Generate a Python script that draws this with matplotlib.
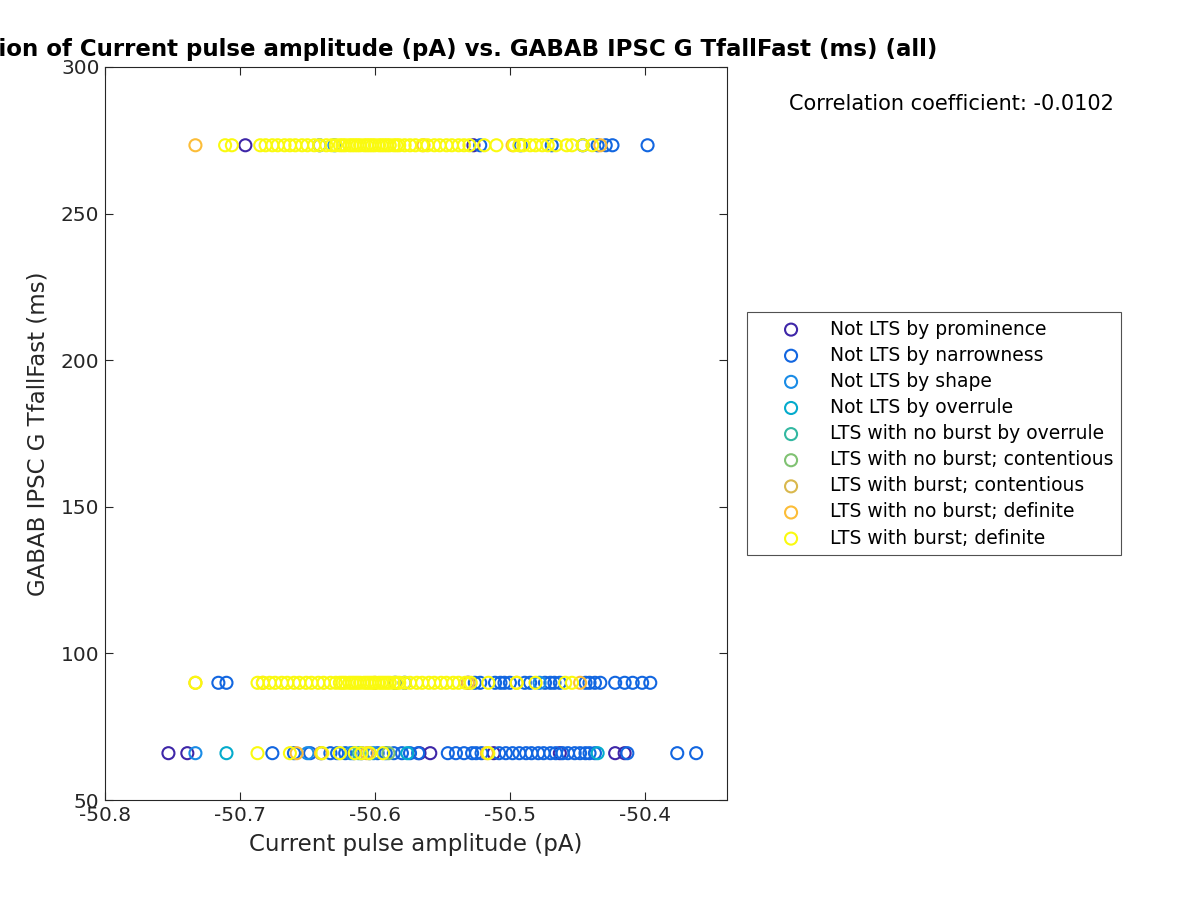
import matplotlib
matplotlib.use("Agg")
import matplotlib.pyplot as plt
import numpy as np

plt.rcParams['font.family'] = ['DejaVu Sans']
plt.rcParams['axes.unicode_minus'] = False

categories = ["Not LTS by prominence", "Not LTS by narrowness", "Not LTS by shape",
              "Not LTS by overrule", "LTS with no burst by overrule",
              "LTS with no burst; contentious", "LTS with burst; contentious",
              "LTS with no burst; definite", "LTS with burst; definite"]
colors = [(0.2422, 0.1504, 0.6603), (0.0704, 0.40, 0.88), (0.10, 0.55, 0.90),
          (0.02, 0.67, 0.80), (0.20, 0.72, 0.63), (0.50, 0.76, 0.45),
          (0.85, 0.72, 0.30), (0.99, 0.74, 0.22), (0.98, 0.98, 0.06)]

Y_TOP, Y_MID, Y_BOT = 273.3, 90.0, 66.0

dense = [-50.626, -50.624, -50.622, -50.619, -50.617, -50.615, -50.613, -50.611,
         -50.608, -50.606, -50.604, -50.602, -50.600, -50.597, -50.595, -50.593,
         -50.591, -50.589, -50.586, -50.584, -50.582]

# --- x values per category and row ---
prom_top = [-50.696, -50.527]
prom_mid = [-50.531]
prom_bot = [-50.753, -50.739, -50.567, -50.559, -50.512, -50.463, -50.422, -50.415]

narrow_top = [-50.641, -50.522, -50.492, -50.469, -50.446, -50.435, -50.429, -50.424, -50.398]
narrow_mid = [-50.716, -50.710, -50.585, -50.578, -50.526, -50.522, -50.511, -50.507,
              -50.504, -50.500, -50.489, -50.485, -50.474, -50.470, -50.467, -50.463,
              -50.444, -50.441, -50.437, -50.433, -50.422, -50.415, -50.409, -50.402,
              -50.396]
narrow_bot = [-50.676, -50.660, -50.648, -50.640, -50.633, -50.628, -50.622, -50.616,
              -50.610, -50.604, -50.598, -50.592, -50.586, -50.580, -50.574, -50.568,
              -50.546, -50.540, -50.534, -50.528, -50.525, -50.521, -50.508, -50.503,
              -50.498, -50.493, -50.488, -50.484, -50.479, -50.475, -50.470, -50.466,
              -50.461, -50.457, -50.452, -50.448, -50.444, -50.441, -50.437, -50.413,
              -50.376, -50.362]

shape_top = [-50.630]
shape_mid = [-50.478]
shape_bot = [-50.733, -50.650, -50.618, -50.601]

overrule_top = []
overrule_mid = []
overrule_bot = [-50.710, -50.576, -50.435]

ltsover_bot = [-50.612]
nbcont_bot = [-50.590]
bcont_mid = [-50.600]

nbdef_top = [-50.733, -50.564, -50.498, -50.433]
nbdef_mid = [-50.733, -50.683, -50.531, -50.495, -50.448]
nbdef_bot = [-50.658, -50.640, -50.606, -50.517]

burst_top = ([-50.711, -50.706, -50.685, -50.681, -50.676, -50.672, -50.667, -50.663,
              -50.659, -50.654, -50.650, -50.645, -50.641, -50.636, -50.632, -50.629]
             + dense +
             [-50.578, -50.574, -50.570, -50.565, -50.561, -50.556, -50.552, -50.547,
              -50.543, -50.538, -50.534, -50.530, -50.519, -50.510, -50.497, -50.493,
              -50.490, -50.485, -50.481, -50.476, -50.472, -50.466, -50.458, -50.454,
              -50.446, -50.439])
burst_mid = ([-50.733, -50.687, -50.683, -50.678, -50.674, -50.669, -50.665, -50.660,
              -50.656, -50.651, -50.647, -50.642, -50.638, -50.633, -50.629]
             + dense +
             [-50.578, -50.574, -50.569, -50.565, -50.560, -50.556, -50.551, -50.547,
              -50.542, -50.538, -50.533, -50.529, -50.516, -50.495, -50.481, -50.459,
              -50.454])
burst_bot = [-50.687, -50.663, -50.639, -50.626, -50.615, -50.610, -50.604, -50.594,
             -50.516]

groups = [
    [(prom_top, Y_TOP), (prom_mid, Y_MID), (prom_bot, Y_BOT)],
    [(narrow_top, Y_TOP), (narrow_mid, Y_MID), (narrow_bot, Y_BOT)],
    [(shape_top, Y_TOP), (shape_mid, Y_MID), (shape_bot, Y_BOT)],
    [(overrule_top, Y_TOP), (overrule_mid, Y_MID), (overrule_bot, Y_BOT)],
    [(ltsover_bot, Y_BOT)],
    [(nbcont_bot, Y_BOT)],
    [(bcont_mid, Y_MID)],
    [(nbdef_top, Y_TOP), (nbdef_mid, Y_MID), (nbdef_bot, Y_BOT)],
    [(burst_top, Y_TOP), (burst_mid, Y_MID), (burst_bot, Y_BOT)],
]

corr_text = "Correlation coefficient: -0.0102"
x_ticks = [-50.8, -50.7, -50.6, -50.5, -50.4]
x_ticklabels = ["-50.8", "-50.7", "-50.6", "-50.5", "-50.4"]
y_ticks = [50, 100, 150, 200, 250, 300]

fig = plt.figure(figsize=(12, 9), dpi=100)
ax = fig.add_axes([0.0875, 0.111, 0.5185, 0.8146])

for name, col, grp in zip(categories, colors, groups):
    xs, ys = [], []
    for xv, yv in grp:
        xs += list(xv)
        ys += [yv] * len(xv)
    ax.scatter(xs, ys, s=75, facecolors='none', edgecolors=[col], linewidths=1.5,
               label=name)

dark = (0.15, 0.15, 0.15)
ax.set_xlim(-50.8, -50.339)
ax.set_ylim(50, 300)
ax.set_xticks(x_ticks)
ax.set_xticklabels(x_ticklabels)
ax.set_yticks(y_ticks)
ax.tick_params(direction='in', top=True, right=True, labelsize=14.5, colors=dark,
               length=6, pad=4)
for sp in ax.spines.values():
    sp.set_color(dark)
ax.set_xlabel("Current pulse amplitude (pA)", fontsize=16.5, color=dark, labelpad=6)
ax.set_ylabel("GABAB IPSC G TfallFast (ms)", fontsize=16.5, color=dark, labelpad=8)
ax.set_title("Correlation of Current pulse amplitude (pA) vs. GABAB IPSC G TfallFast (ms) (all)",
             fontsize=16.5, fontweight='bold', pad=8)

leg = fig.legend(loc='upper left', bbox_to_anchor=(0.6225, 0.6533), fontsize=13.5,
                 frameon=True, fancybox=False, edgecolor=dark,
                 borderpad=0.4, labelspacing=0.38, handletextpad=0.1, borderaxespad=0,
                 handlelength=3.9)
leg.get_frame().set_linewidth(0.8)

fig.text(0.7925, 0.8844, corr_text, fontsize=15, ha='center', va='center')

fig.savefig("out.png", dpi=100)
